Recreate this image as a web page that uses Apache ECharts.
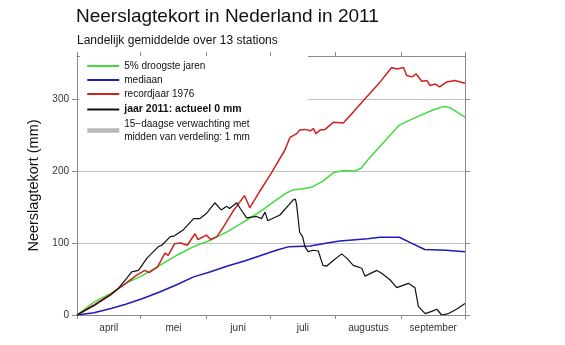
<!DOCTYPE html>
<html>
<head>
<meta charset="utf-8">
<script src="https://cdn.jsdelivr.net/npm/echarts@6/dist/echarts.min.js"></script>
<style>html,body{margin:0;padding:0;background:#fff}#c{width:565px;height:345px}</style>
</head>
<body>
<div id="c"></div>
<script>
// x = days since 1 April 2011, y = precipitation deficit (mm)
var monthTicks = [0, 30, 61, 91, 122, 153, 183];
var monthMids = [15, 45.5, 76, 106.5, 137.5, 168];
var monthNames = ['april', 'mei', 'juni', 'juli', 'augustus', 'september'];
var yTicks = [0, 100, 200, 300];

var droogste5 = [[0,0],[8,18],[16,30],[23,44],[31,55],[39,69],[47,83],[55,95],[63,104],[71,116],[79,130],[86,143],[94,160],[99,170],[102,174],[106,175],[111,178],[116,186],[121,198],[126,201],[131,200],[134,204],[137,215],[145,241],[152,264],[160,275],[168,285],[173,290],[176,288],[183,275]];
var mediaan = [[0,0],[8,3],[16,9],[23,15],[31,23],[39,32],[47,42],[55,53],[63,60],[71,68],[79,75],[86,82],[94,90],[100,95],[110,96],[118,100],[124,103],[137,106],[143,108],[152,108],[157,101],[164,91],[174,90],[183,88]];
var record1976 = [[0,0],[8,14],[16,29],[23,44],[28,55],[32,62],[34,59],[38,67],[41.5,86],[43,83],[46,99],[49,100],[52,97],[55.7,113],[57,105],[61,111],[63,105],[66,109],[69,122],[74,146],[79,166],[81.5,149],[86,171],[92,199],[98,229],[100.5,247],[103.6,252],[105,257],[107.5,258],[110,256],[111.5,259],[112.7,252],[114.6,257],[117,258],[121,268],[125.6,267],[130.3,282],[136.6,303],[143,324],[148.4,344],[150.8,342],[154,344],[155.5,333],[158,331],[160,335],[162.6,325],[165,326],[166.5,319],[169,321],[171,317],[174.4,324],[178.3,326],[183,322]];
var jaar2011 = [[0,0],[8,13],[16,28],[19.5,37],[23.4,51],[25.8,60],[29,62],[33,79],[38.4,95],[40,97],[44,109],[46,110],[50,118],[55,134],[58,134],[61,141],[65,156],[68,146],[70.6,151],[72,148],[75.3,156],[77,148],[80,135],[84.7,137],[87,134],[88.7,143],[90,131],[95.7,139],[102,160],[103,161],[103.6,153],[105,115],[106.4,109],[107.5,95],[109,88],[111.5,90],[113.8,89],[116,69],[117.8,68],[121,76],[124.8,85],[127.2,79],[130.3,69],[134.3,65],[135.8,54],[141.4,62],[143.7,58],[147.6,49],[150.8,38],[156.3,44],[159.4,38],[161,12],[164.2,2],[167.3,5],[169.7,8],[172,0],[175.2,2],[179,8],[183,16]];
var verwachting = [];

var names = ['5% droogste jaren', 'mediaan', 'recordjaar 1976', 'jaar 2011: actueel 0 mm', '15\u2212daagse verwachting met\nmidden van verdeling: 1 mm'];

var FONT = '"Liberation Sans", Arial, Helvetica, sans-serif';
var axisGray = '#8a8a8a';

var chart = echarts.init(document.getElementById('c'), null, {renderer: 'canvas'});
function lineSeries(name, data, color, width, type) {
  return {name: name, type: 'line', data: data, symbol: 'none', showSymbol: false,
    lineStyle: {color: color, width: width, type: type || 'solid'}, itemStyle: {color: color},
    xAxisIndex: 0, yAxisIndex: 0, animation: false, z: 3};
}
chart.setOption({
  backgroundColor: '#fff',
  animation: false,
  title: [
    {text: 'Neerslagtekort in Nederland in 2011', left: 76, top: 7, padding: 0,
     textStyle: {fontFamily: FONT, fontSize: 19, fontWeight: 'normal', color: '#111'}},
    {text: 'Landelijk gemiddelde over 13 stations', left: 77, top: 35, padding: 0,
     textStyle: {fontFamily: FONT, fontSize: 12, fontWeight: 'normal', color: '#111'}}
  ],
  grid: {left: 77, right: 100, top: 56, bottom: 30, containLabel: false},
  legend: {
    orient: 'vertical', left: 80, top: 56, z: 1,
    padding: [3, 58, 3, 5], itemGap: 0, itemWidth: 32, itemHeight: 10,
    backgroundColor: '#fff', selectedMode: false,
    itemStyle: {opacity: 0},
    textStyle: {fontFamily: FONT, fontSize: 10, color: '#111', lineHeight: 14},
    data: [
      {name: names[0]},
      {name: names[1]},
      {name: names[2]},
      {name: names[3], textStyle: {fontWeight: 'bold', fontSize: 10.5, lineHeight: 17}},
      {name: names[4], textStyle: {lineHeight: 12.5}, lineStyle: {width: 4.5, color: '#b8b8b8'}}
    ]
  },
  xAxis: [
    {type: 'value', position: 'bottom', min: 0, max: 183,
     axisLine: {show: true, onZero: false, lineStyle: {color: axisGray, width: 1}},
     axisTick: {show: true, length: 4, customValues: monthTicks, lineStyle: {color: axisGray}},
     axisLabel: {show: true, customValues: monthMids, margin: 8,
       fontFamily: FONT, fontSize: 10, color: '#333',
       formatter: function (v) { var i = monthMids.indexOf(v); return i >= 0 ? monthNames[i] : ''; }},
     splitLine: {show: false}},
    {type: 'value', position: 'top', min: 0, max: 183,
     axisLine: {show: true, onZero: false, lineStyle: {color: axisGray, width: 1}},
     axisTick: {show: true, length: 4, customValues: monthTicks, lineStyle: {color: axisGray}},
     axisLabel: {show: false}, splitLine: {show: false}}
  ],
  yAxis: [
    {type: 'value', position: 'left', min: 0, max: 360,
     name: 'Neerslagtekort (mm)', nameLocation: 'middle', nameGap: 30,
     nameTextStyle: {fontFamily: FONT, fontSize: 14.5, color: '#111'},
     axisLine: {show: true, onZero: false, lineStyle: {color: axisGray, width: 1}},
     axisTick: {show: true, length: 5, customValues: yTicks, lineStyle: {color: axisGray}},
     axisLabel: {show: true, customValues: yTicks, margin: 8, fontFamily: FONT, fontSize: 10, color: '#333'},
     splitLine: {show: true, customValues: yTicks, lineStyle: {color: '#c4c4c4', width: 1}}},
    {type: 'value', position: 'right', min: 0, max: 360,
     axisLine: {show: true, onZero: false, lineStyle: {color: axisGray, width: 1}},
     axisTick: {show: true, length: 5, customValues: yTicks, lineStyle: {color: axisGray}},
     axisLabel: {show: false}, splitLine: {show: false}}
  ],
  series: [
    lineSeries(names[0], droogste5, '#3fdc3f', 1.5),
    lineSeries(names[1], mediaan, '#1c1cb8', 1.5),
    lineSeries(names[2], record1976, '#d02020', 1.5),
    lineSeries(names[3], jaar2011, '#111111', 1.2),
    lineSeries(names[4], verwachting, '#b4b4b4', 4.5)
  ]
});
</script>
</body>
</html>
